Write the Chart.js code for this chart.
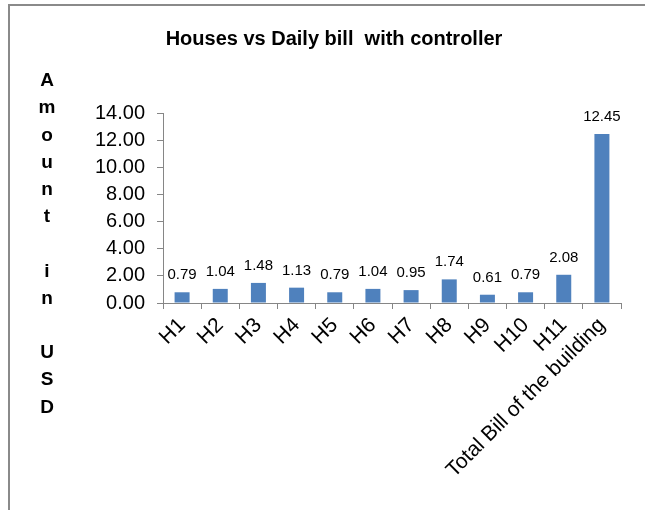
<!DOCTYPE html>
<html lang="en">
<head>
    <meta charset="UTF-8">
    <title>Houses vs Daily bill with controller</title>
    <script src="https://cdn.jsdelivr.net/npm/chart.js"></script>
    <style>
        body {
            margin: 0;
            background: #fff;
        }
        #billChart {
            display: block;
        }
    </style>
</head>
<body>
    <canvas id="billChart" width="645" height="510"></canvas>

    <script>
        const houses = ['H1', 'H2', 'H3', 'H4', 'H5', 'H6', 'H7', 'H8', 'H9', 'H10', 'H11', 'Total Bill of the building'];
        const dailyBill = [0.79, 1.04, 1.48, 1.13, 0.79, 1.04, 0.95, 1.74, 0.61, 0.79, 2.08, 12.45];
        const yTicks = [0, 2, 4, 6, 8, 10, 12, 14];
        const yTitleLetters = ['A', 'm', 'o', 'u', 'n', 't', '', 'i', 'n', '', 'U', 'S', 'D'];

        const axisGray = '#868686';
        const font = 'Arial, "Liberation Sans", sans-serif';

        // outer frame + stacked y title
        const framePlugin = {
            id: 'frame',
            beforeDraw(chart) {
                const ctx = chart.ctx;
                ctx.save();
                ctx.strokeStyle = '#8a8a8a';
                ctx.lineWidth = 2;
                ctx.beginPath();
                ctx.moveTo(9, chart.height);
                ctx.lineTo(9, 5);
                ctx.lineTo(chart.width, 5);
                ctx.stroke();

                ctx.fillStyle = '#000';
                ctx.font = 'bold 19px ' + font;
                ctx.textAlign = 'center';
                ctx.textBaseline = 'middle';
                yTitleLetters.forEach((ch, i) => {
                    ctx.fillText(ch, 47, 81 + i * 27.2);
                });
                ctx.restore();
            }
        };

        // value above every bar
        const valueLabels = {
            id: 'valueLabels',
            afterDatasetsDraw(chart) {
                const ctx = chart.ctx;
                const meta = chart.getDatasetMeta(0);
                ctx.save();
                ctx.fillStyle = '#000';
                ctx.font = '15px ' + font;
                ctx.textAlign = 'center';
                ctx.textBaseline = 'alphabetic';
                meta.data.forEach((bar, i) => {
                    ctx.fillText(dailyBill[i].toFixed(2), bar.x, bar.y - 13);
                });
                ctx.restore();
            }
        };

        new Chart(document.getElementById('billChart'), {
            type: 'bar',
            data: {
                labels: houses,
                datasets: [{
                    data: dailyBill,
                    backgroundColor: '#4F81BD',
                    barPercentage: 0.393,
                    categoryPercentage: 1
                }]
            },
            options: {
                responsive: false,
                animation: false,
                layout: {
                    padding: { left: 47, right: 24, top: 0, bottom: 0 }
                },
                plugins: {
                    legend: { display: false },
                    tooltip: { enabled: false },
                    title: {
                        display: true,
                        text: 'Houses vs Daily bill  with controller',
                        color: '#000',
                        font: { family: font, size: 20, weight: 'bold' },
                        padding: { top: 27, bottom: 62 }
                    }
                },
                scales: {
                    x: {
                        grid: {
                            display: true,
                            drawOnChartArea: false,
                            drawTicks: true,
                            tickLength: 6,
                            color: axisGray
                        },
                        border: { color: axisGray, width: 1 },
                        ticks: {
                            color: '#000',
                            font: { family: font, size: 21 },
                            minRotation: 45,
                            maxRotation: 45,
                            autoSkip: false,
                            padding: 4
                        },
                        afterFit(scale) {
                            scale.height = 207;
                        }
                    },
                    y: {
                        min: 0,
                        max: 14,
                        afterBuildTicks(scale) {
                            scale.ticks = yTicks.map(v => ({ value: v }));
                        },
                        grid: {
                            display: true,
                            drawOnChartArea: false,
                            drawTicks: true,
                            tickLength: 6,
                            color: axisGray
                        },
                        border: { color: axisGray, width: 1 },
                        ticks: {
                            color: '#000',
                            font: { family: font, size: 20 },
                            padding: 12,
                            callback: v => Number(v).toFixed(2)
                        },
                        afterFit(scale) {
                            scale.width = 116;
                        }
                    }
                }
            },
            plugins: [framePlugin, valueLabels]
        });
    </script>
</body>
</html>
